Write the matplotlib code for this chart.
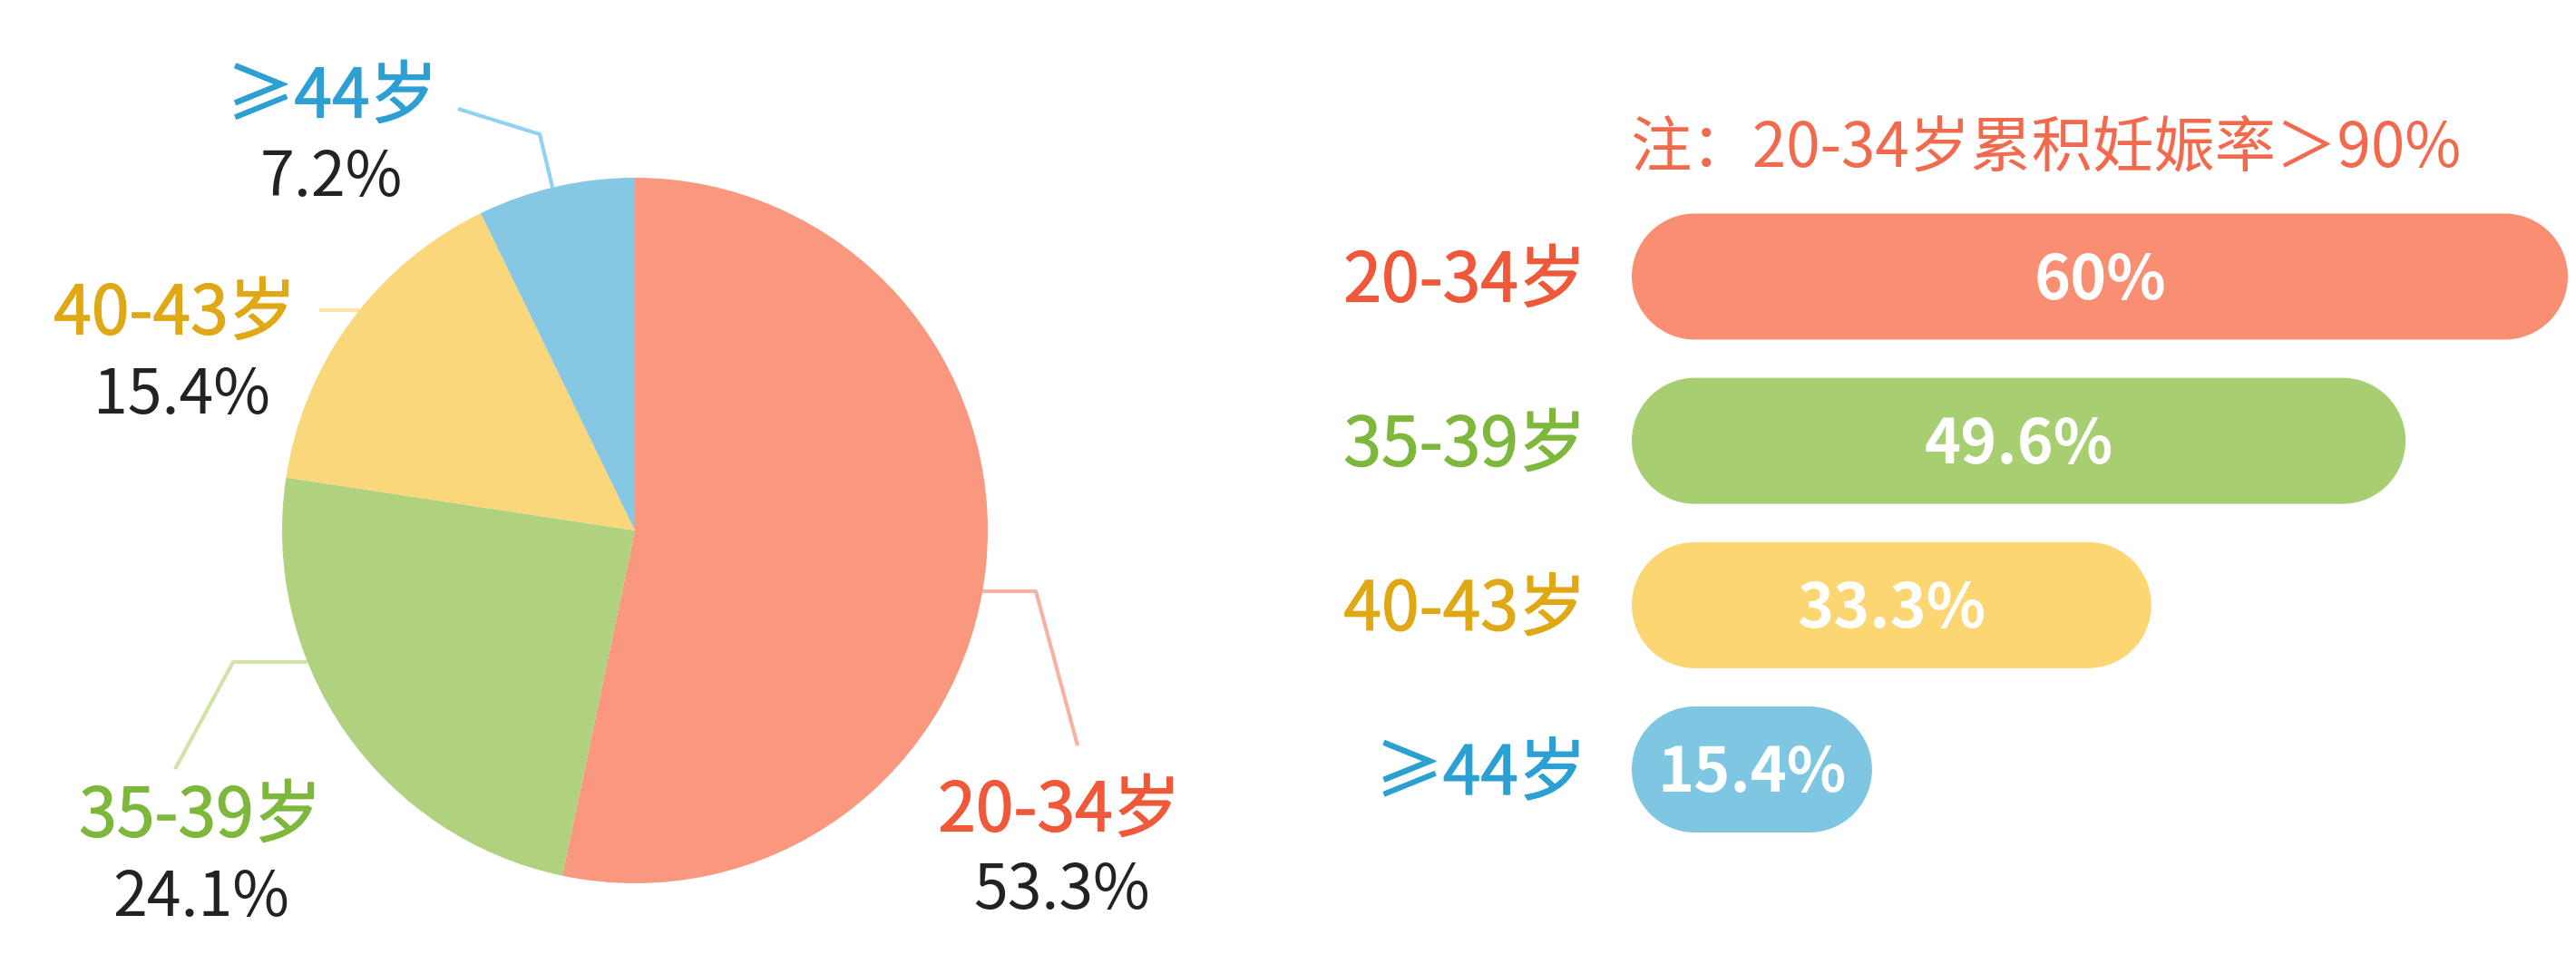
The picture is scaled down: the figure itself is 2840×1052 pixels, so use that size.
import matplotlib
matplotlib.use('Agg')
import matplotlib.pyplot as plt
from matplotlib.patches import PathPatch
from matplotlib.path import Path
from matplotlib.transforms import offset_copy
import matplotlib.patheffects as pe
import numpy as np

plt.rcParams['font.family'] = ['Noto Sans CJK SC', 'DejaVu Sans']

# ---------------- data ----------------
pie_labels = ['20-34岁', '35-39岁', '40-43岁', '≥44岁']
pie_share = [53.3, 24.1, 15.4, 7.2]
pie_share_text = ['53.3%', '24.1%', '15.4%', '7.2%']

bar_labels = ['20-34岁', '35-39岁', '40-43岁', '≥44岁']
bar_rates = [60, 49.6, 33.3, 15.4]
bar_rate_text = ['60%', '49.6%', '33.3%', '15.4%']

note_text = '注：20-34岁累积妊娠率＞90%'

# ---------------- styles ----------------
pie_colors = ['#F9987E', '#B0D17E', '#FAD77B', '#86C8E3']
bar_colors = ['#FA8E72', '#A8CE72', '#FDD674', '#7EC6E1']
label_colors = ['#F0583A', '#7DB83C', '#E0A814', '#2C9FD3']
line_colors = ['#F8B2A4', '#CFE4A6', '#FCE3A2', '#8FD3F4']
note_color = '#F26A4E'
value_color = '#222222'
DIGIT_MID = 0.367  # digit vertical centre as fraction of em

W, H = 2840, 1052
fig = plt.figure(figsize=(W / 100, H / 100), dpi=100)
fig.patch.set_facecolor('white')


def ctext(axis, x, y, s, fs, **kw):
    """Text whose digits are vertically centred at (x, y)."""
    tr = offset_copy(axis.transData, fig=fig, y=-DIGIT_MID * fs, units='points')
    return axis.text(x, y, s, fontsize=fs, va='baseline', transform=tr, **kw)


bold_fx = lambda c: [pe.withStroke(linewidth=0.9, foreground=c)]

# ---------------- pie (pixel-like data coords) ----------------
ax = fig.add_axes([0, 0, 1, 1])
cx, cy, R = 700, H - 585, 389
wedges, _ = ax.pie(pie_share, colors=pie_colors, startangle=90, counterclock=False,
                   center=(cx, cy), radius=R, wedgeprops=dict(linewidth=0))
ax.set_xlim(0, W)
ax.set_ylim(0, H)
ax.set_aspect('equal')
ax.axis('off')

# layout (pixel positions, origin top-left)
label_pos = [(1168, 889), (221, 895), (193, 341), (366, 102)]
value_pos = [(1171, 977), (222, 985), (200, 431), (365, 191)]
elbows = [(1142, 652), (257, 730), (352, 342), (595, 148)]
ends = [(1188, 822), (193, 848), (352, 342), (505, 120)]

for i in range(len(pie_share)):
    ex, ey = elbows[i][0], H - elbows[i][1]
    dx, dy = ex - cx, ey - cy
    if abs(dy) < R:
        axx = cx + np.sign(dx) * np.sqrt(R ** 2 - dy ** 2)
        ayy = ey
    else:
        nrm = np.hypot(dx, dy)
        axx, ayy = cx + dx / nrm * R, cy + dy / nrm * R
    xs = [axx, ex, ends[i][0]]
    ys = [ayy, ey, H - ends[i][1]]
    ax.plot(xs, ys, color=line_colors[i], lw=3, solid_capstyle='butt', zorder=0)
    ctext(ax, label_pos[i][0], H - label_pos[i][1], pie_labels[i], 54,
          color=label_colors[i], ha='center', path_effects=bold_fx(label_colors[i]))
    ctext(ax, value_pos[i][0], H - value_pos[i][1], pie_share_text[i], 49,
          color=value_color, ha='center')

# note
ctext(ax, 1797, H - 159, note_text, 48.5, color=note_color, ha='left')

# ---------------- rounded (pill) bars ----------------
bx0, bx1 = 1799, W
by_top, by_bot = 214.4, 939.1
bax = fig.add_axes([bx0 / W, (H - by_bot) / H, (bx1 - bx0) / W, (by_bot - by_top) / H])
px_per_x = 17.2
bax.set_xlim(0, (bx1 - bx0) / px_per_x)
n = len(bar_rates)
bax.set_ylim(n - 0.5, -0.5)
bax.axis('off')
px_per_y = (by_bot - by_top) / n
bars = bax.barh(range(n), bar_rates, height=0.767, color=bar_colors)


def pill_path(x, y, w, h):
    ry = h / 2
    rx = ry * px_per_y / px_per_x
    yc = y + h / 2
    right = Path.arc(-90, 90)
    left = Path.arc(90, 270)
    rv = right.vertices * [rx, ry] + [x + w - rx, yc]
    lv = left.vertices * [rx, ry] + [x + rx, yc]
    verts = np.vstack([rv, lv, rv[:1]])
    codes = list(right.codes) + [Path.LINETO] + list(left.codes[1:]) + [Path.CLOSEPOLY]
    return Path(verts, codes)


for i, rect in enumerate(bars.patches):
    x, y, w, h = rect.get_x(), rect.get_y(), rect.get_width(), rect.get_height()
    rect.set_visible(False)
    bax.add_patch(PathPatch(pill_path(x, y, w, h), facecolor=bar_colors[i], edgecolor='none'))
    ctext(bax, x + w / 2, i, bar_rate_text[i], 49, color='white',
          fontweight='bold', ha='center')
    ctext(bax, -50 / px_per_x, i, bar_labels[i], 54, color=label_colors[i],
          ha='right', clip_on=False, path_effects=bold_fx(label_colors[i]))

fig.savefig('out.png', dpi=100, facecolor='white')
